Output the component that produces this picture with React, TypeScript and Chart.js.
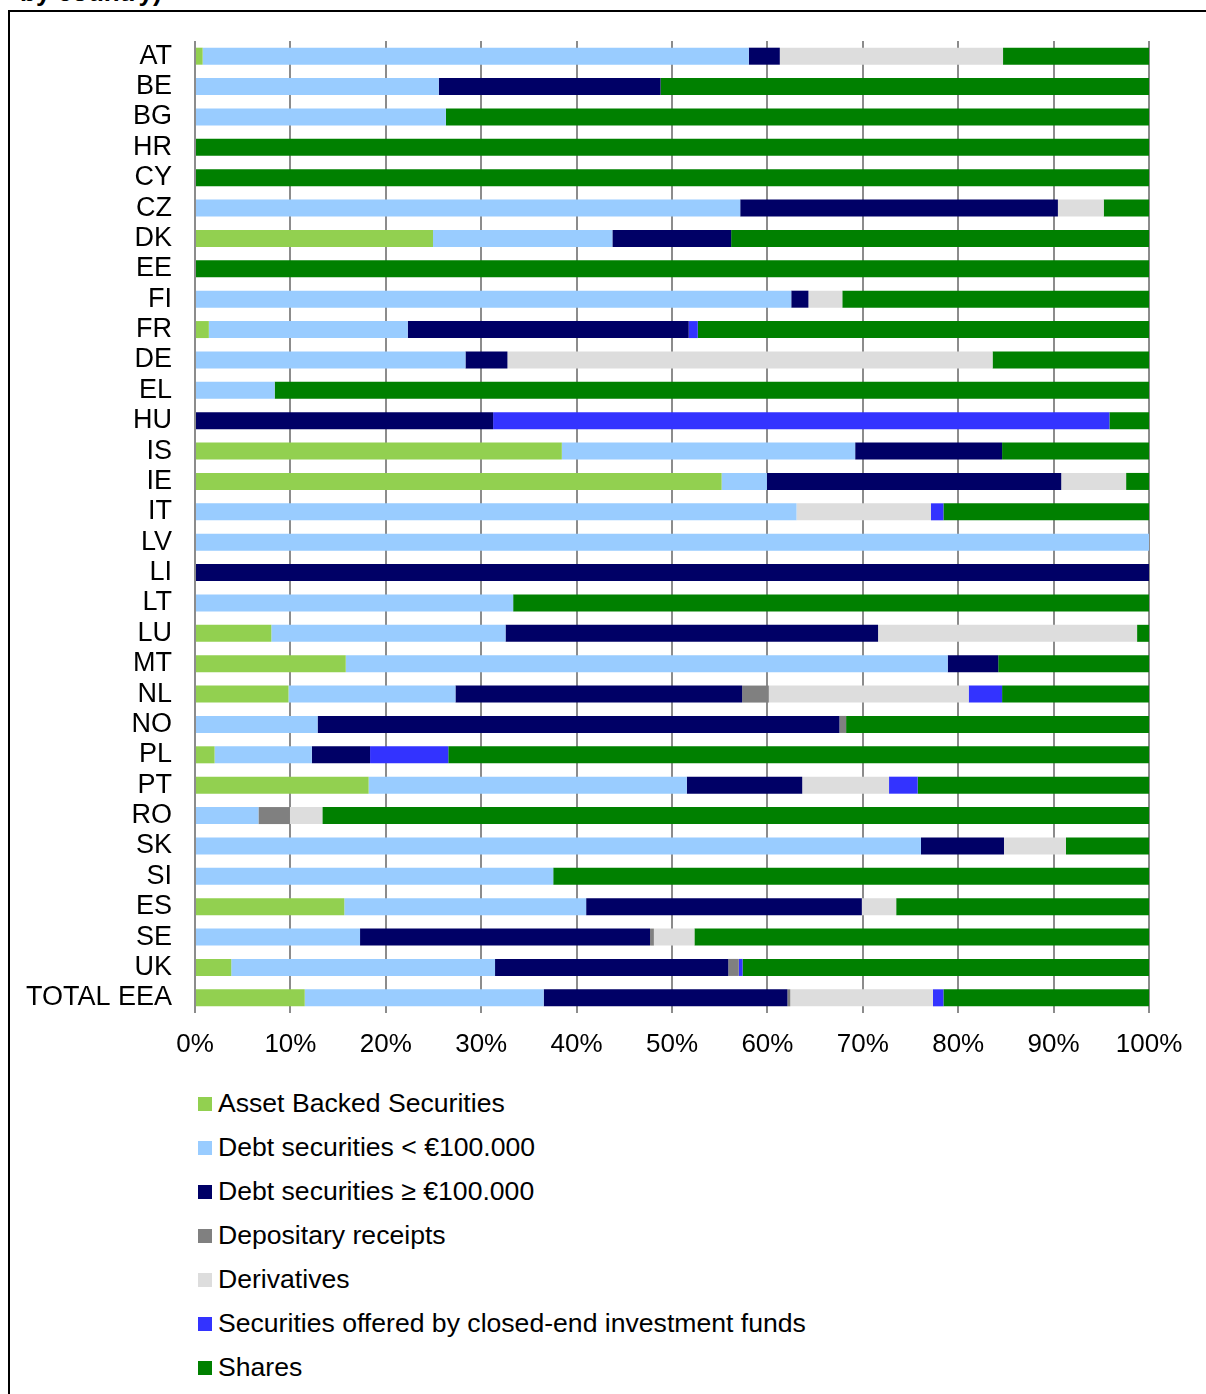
import React, { useEffect, useRef } from "react";
import { Chart, registerables } from "chart.js";

Chart.register(...registerables);

const categories = [
  "AT", "BE", "BG", "HR", "CY", "CZ", "DK", "EE", "FI", "FR", "DE", "EL", "HU", "IS", "IE", "IT",
  "LV", "LI", "LT", "LU", "MT", "NL", "NO", "PL", "PT", "RO", "SK", "SI", "ES", "SE", "UK", "TOTAL EEA",
];

const seriesNames = [
  "Asset Backed Securities",
  "Debt securities < €100.000",
  "Debt securities ≥ €100.000",
  "Depositary receipts",
  "Derivatives",
  "Securities offered by closed-end investment funds",
  "Shares",
];

const seriesColors = ["#92D050", "#99CCFF", "#000066", "#808080", "#DDDDDD", "#3333FF", "#008000"];

const assetBacked = [0.8, 0, 0, 0, 0, 0, 24.95, 0, 0, 1.45, 0, 0, 0, 38.45, 55.2, 0, 0, 0, 0, 8.0, 15.8, 9.8, 0, 2.05, 18.2, 0, 0, 0, 15.65, 0, 3.8, 11.5];
const debtSmall = [57.25, 25.55, 26.3, 0, 0, 57.15, 18.8, 0, 62.5, 20.85, 28.35, 8.35, 0, 30.75, 4.75, 63.05, 100, 0, 33.35, 24.55, 63.1, 17.5, 12.85, 10.2, 33.35, 6.65, 76.1, 37.55, 25.35, 17.3, 27.65, 25.05];
const debtLarge = [3.25, 23.25, 0, 0, 0, 33.3, 12.45, 0, 1.8, 29.45, 4.4, 0, 31.25, 15.4, 30.85, 0, 0, 100, 0, 39.05, 5.3, 30.05, 54.7, 6.1, 12.1, 0, 8.7, 0, 28.9, 30.4, 24.45, 25.55];
const depositary = [0, 0, 0, 0, 0, 0, 0, 0, 0, 0, 0, 0, 0, 0, 0, 0, 0, 0, 0, 0, 0, 2.8, 0.7, 0, 0, 3.3, 0, 0, 0, 0.4, 1.1, 0.3];
const derivatives = [23.4, 0, 0, 0, 0, 4.8, 0, 0, 3.55, 0, 50.85, 0, 0, 0, 6.8, 14.1, 0, 0, 0, 27.15, 0, 20.95, 0, 0, 9.1, 3.4, 6.5, 0, 3.6, 4.25, 0, 14.95];
const closedEnd = [0, 0, 0, 0, 0, 0, 0, 0, 0, 0.95, 0, 0, 64.6, 0, 0, 1.3, 0, 0, 0, 0, 0, 3.5, 0, 8.2, 3.0, 0, 0, 0, 0, 0, 0.4, 1.1];
const shares = [15.3, 51.2, 73.7, 100, 100, 4.75, 43.8, 100, 32.15, 47.3, 16.4, 91.65, 4.15, 15.4, 2.4, 21.55, 0, 0, 66.65, 1.25, 15.8, 15.4, 31.75, 73.45, 24.25, 86.65, 8.7, 62.45, 26.5, 47.65, 42.6, 21.55];

const xTicks = [0, 10, 20, 30, 40, 50, 60, 70, 80, 90, 100];

const seriesValues = [assetBacked, debtSmall, debtLarge, depositary, derivatives, closedEnd, shares];

const FONT = "'Liberation Sans', Arial, Helvetica, sans-serif";

export default function App() {
  const canvasRef = useRef<HTMLCanvasElement | null>(null);

  useEffect(() => {
    const canvas = canvasRef.current;
    if (!canvas) return;
    const chart = new Chart(canvas, {
      type: "bar",
      data: {
        labels: categories,
        datasets: seriesNames.map((name, i) => ({
          label: name,
          data: seriesValues[i],
          backgroundColor: seriesColors[i],
          borderWidth: 0,
          barPercentage: 0.56,
          categoryPercentage: 1,
        })),
      },
      options: {
        indexAxis: "y",
        responsive: false,
        animation: false,
        devicePixelRatio: 1,
        layout: { padding: { top: 41, right: 57, left: 0, bottom: 0 } },
        plugins: {
          legend: { display: false },
          tooltip: { enabled: false },
          title: { display: false },
        },
        scales: {
          x: {
            stacked: true,
            min: 0,
            max: 100,
            afterBuildTicks: (scale: any) => {
              scale.ticks = xTicks.map((v) => ({ value: v }));
            },
            afterFit: (scale: any) => {
              scale.height = 52;
            },
            grid: {
              display: true,
              color: "#8c8c8c",
              lineWidth: 2,
              drawTicks: false,
              drawOnChartArea: true,
            },
            border: { display: false },
            ticks: {
              padding: 16,
              color: "#000000",
              font: { family: FONT, size: 26 },
              callback: (v: any) => `${v}%`,
            },
          },
          y: {
            stacked: true,
            afterFit: (scale: any) => {
              scale.width = 195;
            },
            grid: { display: false, drawTicks: false },
            border: { display: false },
            ticks: {
              autoSkip: false,
              padding: 23,
              color: "#000000",
              font: { family: FONT, size: 27 },
            },
          },
        },
      },
    });
    return () => chart.destroy();
  }, []);

  return (
    <div
      style={{
        position: "fixed",
        left: 0,
        top: 0,
        width: 1206,
        height: 1394,
        overflow: "hidden",
        background: "#ffffff",
        fontFamily: FONT,
      }}
    >
      <div
        style={{
          position: "absolute",
          left: 20,
          top: -21,
          fontSize: 26,
          lineHeight: "26px",
          fontWeight: "bold",
          color: "#000",
          whiteSpace: "nowrap",
        }}
      >
        by country)
      </div>
      <div
        style={{
          position: "absolute",
          left: 8,
          top: 10,
          width: 1300,
          height: 1500,
          borderLeft: "2px solid #000",
          borderTop: "2px solid #000",
          boxSizing: "border-box",
        }}
      />
      <canvas
        ref={canvasRef}
        width={1206}
        height={1065}
        style={{ position: "absolute", left: 0, top: 0, width: 1206, height: 1065, display: "block" }}
      />
      <div style={{ position: "absolute", left: 198, top: 1081 }}>
        {seriesNames.map((name, i) => (
          <div
            key={name}
            style={{ display: "flex", alignItems: "center", height: 44, whiteSpace: "nowrap" }}
          >
            <span
              style={{
                display: "inline-block",
                width: 14,
                height: 14,
                background: seriesColors[i],
                marginRight: 6,
                marginTop: 2,
              }}
            />
            <span style={{ fontSize: 26.6, color: "#000", lineHeight: "30px" }}>{name}</span>
          </div>
        ))}
      </div>
    </div>
  );
}
